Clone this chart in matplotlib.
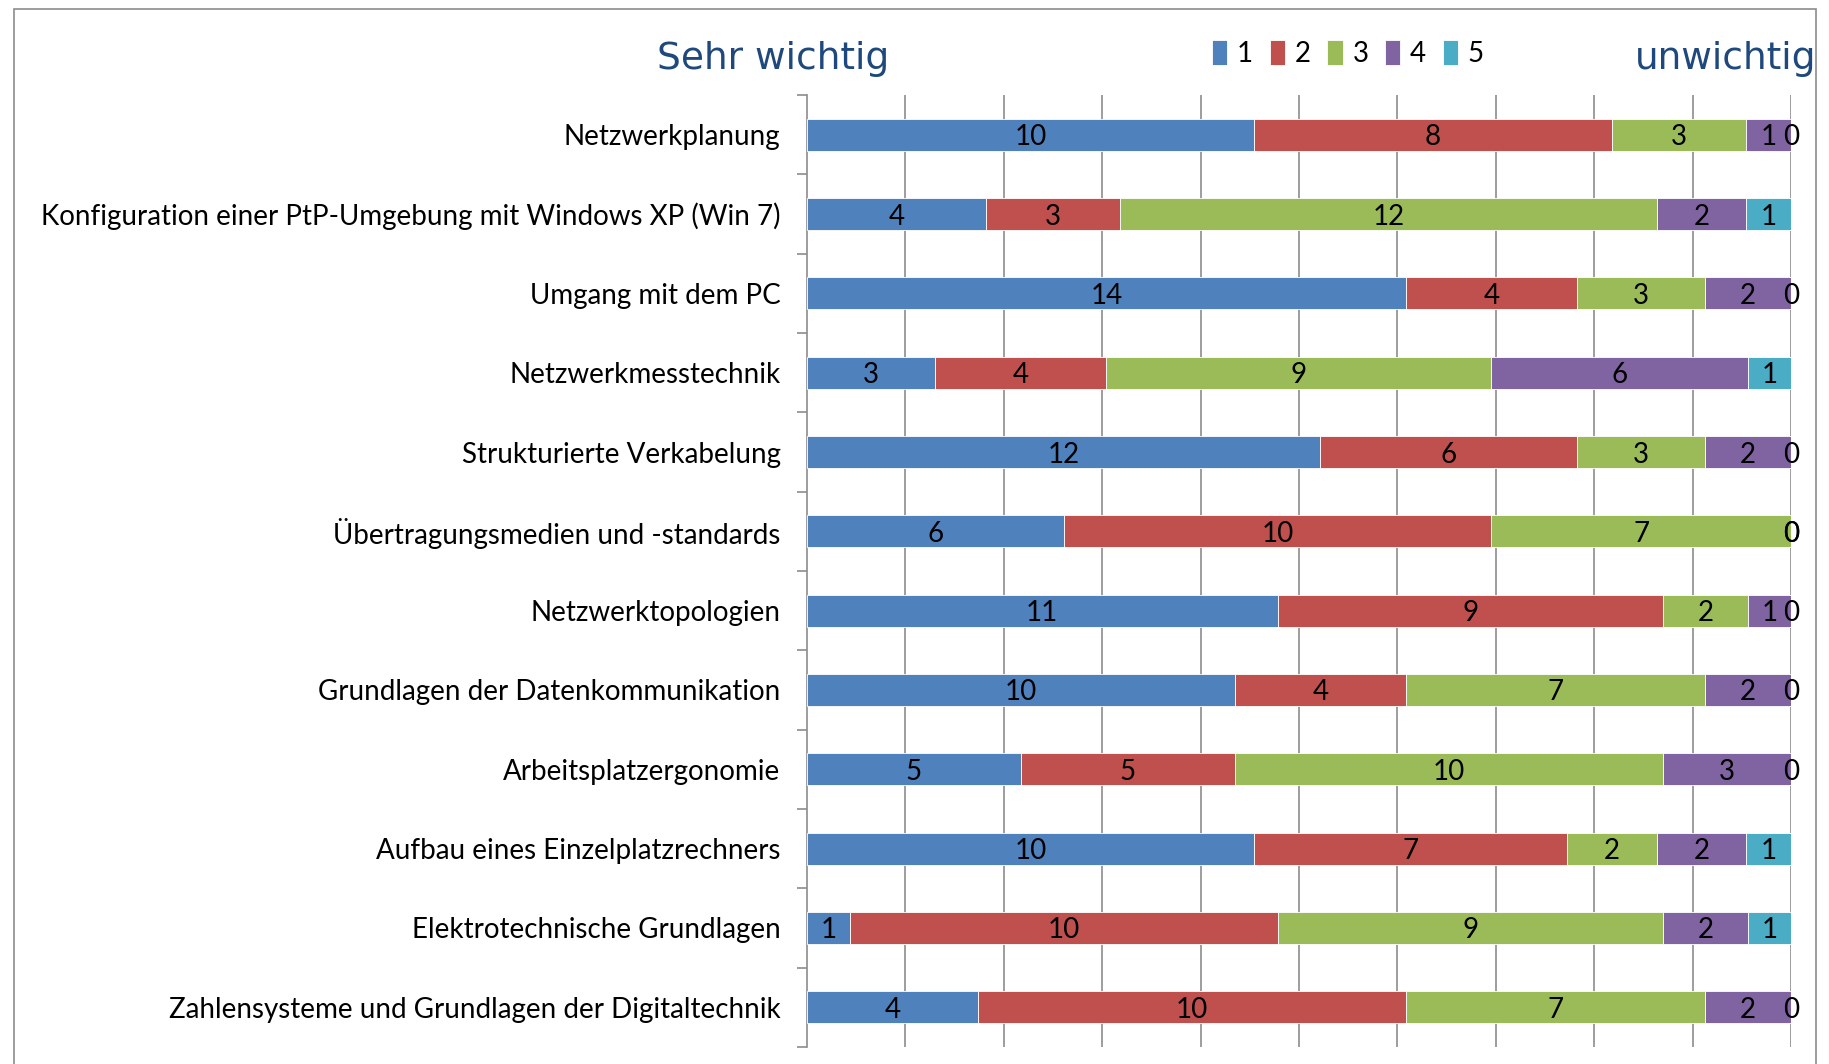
import numpy as np
import matplotlib.pyplot as plt
import matplotlib.patches as patches

OUTPUT_PLOT_FILE = 'out.png'

# categories, top to bottom
categories = [
	'Netzwerkplanung',
	'Konfiguration einer PtP-Umgebung mit Windows XP (Win 7)',
	'Umgang mit dem PC',
	'Netzwerkmesstechnik',
	'Strukturierte Verkabelung',
	'Übertragungsmedien und -standards',
	'Netzwerktopologien',
	'Grundlagen der Datenkommunikation',
	'Arbeitsplatzergonomie',
	'Aufbau eines Einzelplatzrechners',
	'Elektrotechnische Grundlagen',
	'Zahlensysteme und Grundlagen der Digitaltechnik',
]

# answers per rating (1 = sehr wichtig ... 5 = unwichtig)
rating_1 = [10, 4, 14, 3, 12, 6, 11, 10, 5, 10, 1, 4]
rating_2 = [8, 3, 4, 4, 6, 10, 9, 4, 5, 7, 10, 10]
rating_3 = [3, 12, 3, 9, 3, 7, 2, 7, 10, 2, 9, 7]
rating_4 = [1, 2, 2, 6, 2, 0, 1, 2, 3, 2, 2, 2]
rating_5 = [0, 1, 0, 1, 0, 0, 0, 0, 0, 1, 1, 0]

series_names = ['1', '2', '3', '4', '5']
series_colors = ['#4F81BD', '#C0504D', '#9BBB59', '#8064A2', '#4BACC6']

LABEL_FONT = ['Lato', 'DejaVu Sans']
TITLE_COLOR = '#1F497D'


def _plot_result():
	""" Plots the 100% stacked bar chart. """

	fig = plt.figure(figsize=(18.29, 10.64), dpi=100)
	ax = fig.add_axes([0.4412, 0.016, 0.538, 0.8947])

	# frame around the whole chart
	fig.patches.append(patches.Rectangle((0.0077, -0.02), 0.985, 1.0115, transform=fig.transFigure,
		fill=False, edgecolor='#8C8C8C', linewidth=1.2))

	series = np.array([rating_1, rating_2, rating_3, rating_4, rating_5], dtype=float)
	totals = series.sum(axis=0)
	shares = series / totals
	y = np.arange(len(categories))

	left = np.zeros(len(categories))
	handles = []
	for i in range(len(series)):
		bars = ax.barh(y, shares[i], left=left, height=0.4, color=series_colors[i],
			edgecolor='white', linewidth=0.6, zorder=3)
		handles.append(bars)
		# value labels centered in each segment (zero segments too, like Excel)
		for j in range(len(categories)):
			ax.text(left[j] + shares[i][j] / 2, y[j], '%d' % series[i][j], ha='center',
				va='center_baseline', fontsize=20, family=LABEL_FONT, color='black', zorder=4)
		left = left + shares[i]

	ax.set_xlim(0, 1)
	ax.set_ylim(len(categories) - 0.5, -0.5)

	# vertical gridlines every 10 %
	ax.set_xticks(np.linspace(0.1, 1.0, 10))
	ax.xaxis.grid(True, color='#8C8C8C', linewidth=1.2, zorder=0)
	ax.tick_params(axis='x', length=0, labelbottom=False)

	# category labels, tick marks between categories
	ax.set_yticks(y)
	ax.set_yticklabels(categories, family=LABEL_FONT, fontsize=20)
	ax.tick_params(axis='y', which='major', length=0, pad=19)
	ax.set_yticks(np.arange(-0.5, len(categories)), minor=True)
	ax.tick_params(axis='y', which='minor', length=7, color='#8C8C8C', width=1.2)

	for side in ['top', 'right', 'bottom']:
		ax.spines[side].set_visible(False)
	ax.spines['left'].set_color('#8C8C8C')
	ax.spines['left'].set_linewidth(1.2)

	# headings
	fig.text(0.359, 0.945, 'Sehr wichtig', fontsize=27, color=TITLE_COLOR, family='DejaVu Sans',
		ha='left', va='center')
	fig.text(0.993, 0.945, 'unwichtig', fontsize=27, color=TITLE_COLOR, family='DejaVu Sans',
		ha='right', va='center')

	fig.legend(handles, series_names, loc='center', bbox_to_anchor=(0.737, 0.950), ncol=5,
		frameon=False, prop={'family': LABEL_FONT, 'size': 20}, handlelength=0.55, handleheight=1.0,
		handletextpad=0.35, columnspacing=0.6)

	fig.savefig(OUTPUT_PLOT_FILE, dpi=100)


if __name__ == "__main__":
	_plot_result()
